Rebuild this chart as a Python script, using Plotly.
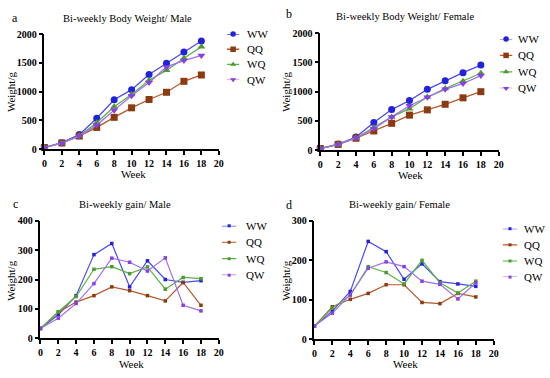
import plotly.graph_objects as go

weeks = [0, 2, 4, 6, 8, 10, 12, 14, 16, 18]
groups = ["WW", "QQ", "WQ", "QW"]

# Panel a: bi-weekly body weight, male
bw_male_WW = [30, 115, 255, 540, 860, 1035, 1300, 1495, 1690, 1880]
bw_male_QQ = [30, 110, 230, 380, 555, 720, 865, 990, 1180, 1290]
bw_male_WQ = [30, 110, 235, 460, 740, 950, 1200, 1370, 1580, 1780]
bw_male_QW = [30, 105, 230, 420, 680, 930, 1160, 1430, 1540, 1630]

# Panel b: bi-weekly body weight, female
bw_female_WW = [30, 105, 225, 475, 695, 850, 1040, 1185, 1325, 1455]
bw_female_QQ = [30, 100, 205, 330, 460, 600, 690, 785, 895, 1000]
bw_female_WQ = [30, 100, 210, 385, 570, 710, 910, 1055, 1180, 1315]
bw_female_QW = [30, 100, 210, 370, 570, 760, 905, 1040, 1140, 1275]

# Panel c: bi-weekly gain, male
gain_male_WW = [33, 80, 145, 285, 323, 175, 264, 200, 190, 196]
gain_male_QQ = [33, 88, 123, 145, 175, 162, 145, 127, 190, 112]
gain_male_WQ = [33, 90, 142, 235, 244, 220, 243, 167, 207, 203]
gain_male_QW = [33, 68, 118, 186, 273, 259, 229, 274, 112, 93]

# Panel d: bi-weekly gain, female
gain_female_WW = [33, 71, 121, 248, 222, 152, 191, 146, 140, 134]
gain_female_QQ = [33, 82, 101, 116, 138, 138, 93, 90, 116, 107]
gain_female_WQ = [33, 79, 111, 184, 169, 140, 200, 143, 117, 147]
gain_female_QW = [33, 66, 113, 180, 196, 184, 147, 139, 102, 143]

panels = [
    dict(letter="a", title="Bi-weekly Body Weight/ Male",
         data=[bw_male_WW, bw_male_QQ, bw_male_WQ, bw_male_QW],
         yrange=[0, 2000], ydtick=500, big=True),
    dict(letter="b", title="Bi-weekly Body Weight/ Female",
         data=[bw_female_WW, bw_female_QQ, bw_female_WQ, bw_female_QW],
         yrange=[0, 2000], ydtick=500, big=True),
    dict(letter="c", title="Bi-weekly gain/ Male",
         data=[gain_male_WW, gain_male_QQ, gain_male_WQ, gain_male_QW],
         yrange=[0, 400], ydtick=100, big=False),
    dict(letter="d", title="Bi-weekly gain/ Female",
         data=[gain_female_WW, gain_female_QQ, gain_female_WQ, gain_female_QW],
         yrange=[0, 300], ydtick=100, big=False),
]

W, H = 550, 378
def px(x):
    return x / W
def py(y):
    return 1 - y / H

# layout geometry in pixels
geo = [
    dict(x=(42, 219), y=(29, 148), letter=(12, 12), title=(126, 13), week=(132, 173), wt=(8, 88),
         leg_line=(227, 240), leg_rows=(29, 76), leg_text=246),
    dict(x=(322, 503), y=(28, 149), letter=(290, 8), title=(408, 11), week=(414, 175), wt=(287, 88),
         leg_line=(504, 517), leg_rows=(34, 85), leg_text=521),
    dict(x=(38, 219), y=(222, 343), letter=(13, 204), title=(124, 205), week=(130, 370), wt=(8, 283),
         leg_line=(222, 237), leg_rows=(227, 278), leg_text=245),
    dict(x=(316, 498), y=(222, 344), letter=(290, 206), title=(402, 205), week=(408, 370), wt=(287, 283),
         leg_line=(507, 522), leg_rows=(230, 280), leg_text=527),
]

marker_colors = ["#2222dd", "#8b3a12", "#4e9a30", "#8a3ee6"]
line_colors = ["#4b4bf2", "#b8582c", "#5bb342", "#a070f2"]
symbols_big = ["circle", "square", "triangle-up", "triangle-down"]

FONT = "Liberation Serif"

fig = go.Figure()
annotations = []
layout_updates = {}

def axis_style():
    return dict(showgrid=False, zeroline=False, showline=True, linecolor="black", linewidth=1.5,
                ticks="outside", ticklen=4, tickwidth=1.5, tickcolor="black",
                tickfont=dict(family=FONT, size=10, color="black", weight="bold"),
                fixedrange=True)

for i, (p, g) in enumerate(zip(panels, geo)):
    n = i + 1
    xa = "xaxis" if n == 1 else f"xaxis{n}"
    ya = "yaxis" if n == 1 else f"yaxis{n}"
    xr = "x" if n == 1 else f"x{n}"
    yr = "y" if n == 1 else f"y{n}"
    # legend overlay axes
    ln = n + 4
    lxa, lya, lxr, lyr = f"xaxis{ln}", f"yaxis{ln}", f"x{ln}", f"y{ln}"
    for k, grp in enumerate(groups):
        if p["big"]:
            mk = dict(symbol=symbols_big[k], size=7, color=marker_colors[k])
            lmk = dict(symbol=symbols_big[k], size=5.5, color=marker_colors[k])
            lw = 1.3
        else:
            mk = dict(symbol="square", size=3.5, color=marker_colors[k])
            lmk = dict(symbol="square", size=3, color=marker_colors[k])
            lw = 1.2
        fig.add_trace(go.Scatter(
            x=weeks, y=p["data"][k], mode="lines+markers", name=grp,
            line=dict(color=line_colors[k], width=lw), marker=mk,
            xaxis=xr, yaxis=yr, cliponaxis=False, showlegend=False,
        ))
        # legend sample (line + symbol) on the overlay axes
        fig.add_trace(go.Scatter(
            x=[0, 1], y=[k, k], mode="lines", line=dict(color=line_colors[k], width=lw),
            xaxis=lxr, yaxis=lyr, cliponaxis=False, showlegend=False, hoverinfo="skip",
        ))
        fig.add_trace(go.Scatter(
            x=[0.5], y=[k], mode="markers", marker=lmk,
            xaxis=lxr, yaxis=lyr, cliponaxis=False, showlegend=False, hoverinfo="skip",
        ))
        row_y = g["leg_rows"][0] + (g["leg_rows"][1] - g["leg_rows"][0]) * k / 3
        annotations.append(dict(text=grp, x=px(g["leg_text"]), y=py(row_y), xref="paper", yref="paper",
                                showarrow=False, xanchor="left", yanchor="middle",
                                font=dict(family=FONT, size=11, color="black")))
    layout_updates[xa] = dict(domain=[px(g["x"][0]), px(g["x"][1])], range=[0, 20], dtick=2, tick0=0,
                              anchor=yr, **axis_style())
    layout_updates[ya] = dict(domain=[py(g["y"][1]), py(g["y"][0])], range=p["yrange"], dtick=p["ydtick"],
                              tick0=0, anchor=xr, **axis_style())
    layout_updates[lxa] = dict(domain=[px(g["leg_line"][0]), px(g["leg_line"][1])], range=[0, 1],
                               visible=False, fixedrange=True, anchor=lyr)
    layout_updates[lya] = dict(domain=[py(g["leg_rows"][1]), py(g["leg_rows"][0])], range=[3, 0],
                               visible=False, fixedrange=True, anchor=lxr)
    annotations += [
        dict(text=p["letter"], x=px(g["letter"][0]), y=py(g["letter"][1]), xref="paper", yref="paper",
             showarrow=False, xanchor="center", yanchor="middle", font=dict(family=FONT, size=12, color="black")),
        dict(text=p["title"], x=px(g["title"][0]), y=py(g["title"][1]), xref="paper", yref="paper",
             showarrow=False, xanchor="center", yanchor="middle", font=dict(family=FONT, size=10.5, color="black")),
        dict(text="Week", x=px(g["week"][0]), y=py(g["week"][1]), xref="paper", yref="paper",
             showarrow=False, xanchor="center", yanchor="middle", font=dict(family=FONT, size=11, color="black")),
        dict(text="Weight/g", x=px(g["wt"][0]), y=py(g["wt"][1]), xref="paper", yref="paper", textangle=-90,
             showarrow=False, xanchor="center", yanchor="middle", font=dict(family=FONT, size=11, color="black")),
    ]

fig.update_layout(
    width=W, height=H, margin=dict(l=0, r=0, t=0, b=0),
    paper_bgcolor="white", plot_bgcolor="white",
    font=dict(family=FONT, color="black"), showlegend=False,
    annotations=annotations, **layout_updates,
)

fig.write_html("out.html", config={"displayModeBar": False},
               post_script="document.body.style.margin='0px';")
